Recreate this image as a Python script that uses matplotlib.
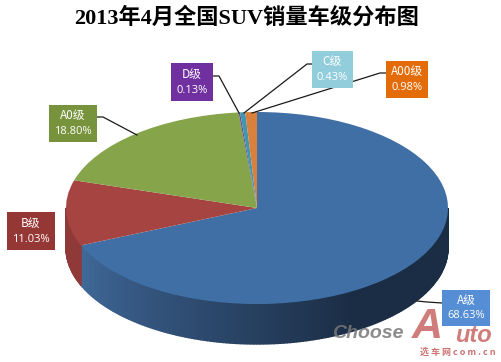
import numpy as np
import matplotlib
matplotlib.use('Agg')
import matplotlib.pyplot as plt
from matplotlib.patches import Rectangle

plt.rcParams['font.family'] = ['Noto Sans CJK SC', 'DejaVu Sans']

#%% data
title = '2013年4月全国SUV销量车级分布图'
names = ['A级', 'B级', 'A0级', 'D级', 'C级', 'A00级']
shares = [68.63, 11.03, 18.80, 0.13, 0.43, 0.98]
labels = ['68.63%', '11.03%', '18.80%', '0.13%', '0.43%', '0.98%']

top_colors = ['#406fa5', '#a64442', '#86a44a', '#6a4a94', '#3e97ae', '#d9803c']
wall_light = ['#40699a', '#8f3a38', '#74903f', '#5a3f80', '#35839a', '#c06f30']
wall_dark = ['#1b2d45', '#702c2a', '#5c7232', '#46326a', '#2a6a7c', '#a05a26']
box_colors = ['#558ed5', '#953735', '#77933c', '#7030a0', '#92cddc', '#e36c09']

W, H = 501, 362
fig = plt.figure(figsize=(W / 100, H / 100), dpi=100, facecolor='white')

#%% pie, the axes box is the top ellipse
cx, cy, rx, ry = 257, 208, 191, 96
depth = 40 / ry
ax = fig.add_axes([(cx - rx) / W, 1 - (cy + ry) / H, 2 * rx / W, 2 * ry / H])
ax.pie(shares, colors=top_colors, startangle=90, counterclock=False, radius=1,
       center=(0, 0), wedgeprops={'linewidth': 0, 'zorder': 3})
ax.set_aspect('auto')
ax.set_xlim(-1, 1)
ax.set_ylim(-1, 1)

# side wall of the cylinder
edges = np.cumsum([0] + shares) / 100 * 360
for i in range(len(shares)):
    start, stop = max(edges[i], 90), min(edges[i + 1], 270)
    if stop <= start:
        continue
    angs = np.radians(np.arange(start, stop + 1, 1.0))
    c0 = np.array(matplotlib.colors.to_rgb(wall_dark[i]))
    c1 = np.array(matplotlib.colors.to_rgb(wall_light[i]))
    for a0, a1 in zip(angs[:-1], angs[1:]):
        t = min(1, max(0, (np.degrees(a0) - 150) / 97))
        col = c0 + (c1 - c0) * t
        xs = [np.sin(a0), np.sin(a1), np.sin(a1), np.sin(a0)]
        ys = [np.cos(a0), np.cos(a1), np.cos(a1) - depth, np.cos(a0) - depth]
        ax.fill(xs, ys, facecolor=col, edgecolor=col, lw=1.0, clip_on=False, zorder=1)

#%% overlay in picture pixels for labels and leader lines
ov = fig.add_axes([0, 0, 1, 1], facecolor='none')
ov.set_xlim(0, W)
ov.set_ylim(H, 0)
ov.axis('off')

boxes = [(442, 290, 48, 36), (7, 212, 48, 38), (49, 105, 48, 37),
         (171, 63, 42, 38), (312, 51, 41, 37), (386, 61, 42, 37)]
leaders = [[(442, 303), (427, 302), (417, 301)],
           [(97, 117), (103, 117), (137, 135)],
           [(213, 76), (219, 76), (239, 113)],
           [(312, 64), (307, 64), (244, 113)],
           [(386, 73), (380, 73), (252, 113)]]

for pts in leaders:
    ov.plot(*zip(*pts), color='#1a1a1a', lw=0.9, zorder=2)

for i, (x, y, w, h) in enumerate(boxes):
    ov.add_patch(Rectangle((x, y), w, h, facecolor=box_colors[i], edgecolor='none', zorder=3))
    ov.text(x + w / 2, y + h * 0.29, names[i], color='white', fontsize=8.5,
            ha='center', va='center', zorder=4)
    ov.text(x + w / 2, y + h * 0.72, labels[i], color='white', fontsize=8,
            ha='center', va='center', zorder=4,
            family=['Open Sans', 'DejaVu Sans'])

ov.text(247, 18, title, fontsize=16, fontweight='bold', ha='center', va='center',
        family=['Liberation Serif', 'Noto Sans CJK SC'], color='black')

# watermark
ov.text(368, 334, 'Choose', fontsize=14, fontweight='bold', style='italic', color='#777777',
        alpha=0.85, ha='center', va='center', family=['Liberation Sans'], zorder=5)
ov.text(427, 327, 'A', fontsize=31, fontweight='bold', style='italic', color='#c0504d',
        alpha=0.75, ha='center', va='center', family=['Liberation Sans'], zorder=5)
ov.text(473, 335, 'uto', fontsize=17, fontweight='bold', style='italic', color='#c0504d',
        alpha=0.75, ha='center', va='center', family=['Liberation Sans'], zorder=5)
ov.text(458, 352, '选 车 网 c o m . c n', fontsize=6.5, fontweight='bold', color='#c0504d',
        alpha=0.8, ha='center', va='center', zorder=5)

plt.savefig('out.png', dpi=100)
